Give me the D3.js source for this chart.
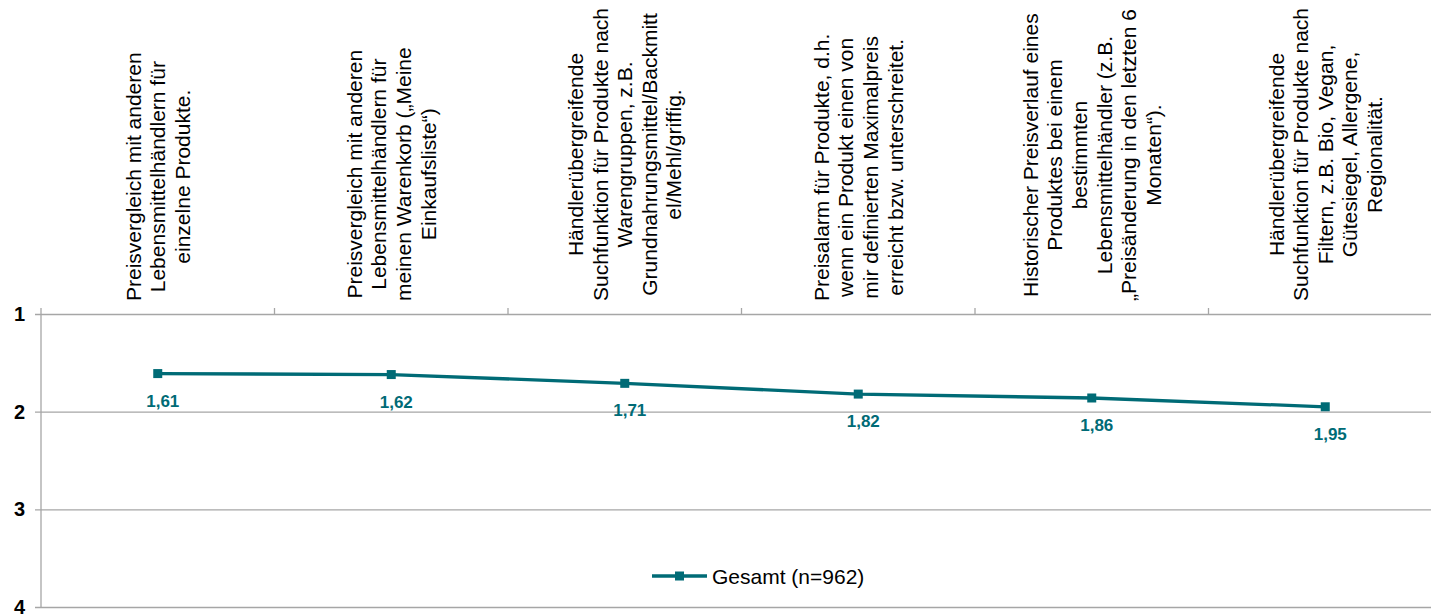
<!DOCTYPE html>
<html>
<head>
<meta charset="utf-8">
<script src="https://cdn.jsdelivr.net/npm/d3@7"></script>
<style>
  html, body { margin: 0; padding: 0; background: #fff; overflow: hidden; }
  svg { display: block; font-family: "Liberation Sans", Arial, sans-serif; }
</style>
</head>
<body>
<svg id="chart" width="1431" height="614"></svg>
<script>
// Feature labels (line breaks as shown on the category axis)
const categories = [
  ["Preisvergleich mit anderen", "Lebensmittelhändlern für", "einzelne Produkte."],
  ["Preisvergleich mit anderen", "Lebensmittelhändlern für", "meinen Warenkorb („Meine", "Einkaufsliste“)"],
  ["Händlerübergreifende", "Suchfunktion für Produkte nach", "Warengruppen, z.B.", "Grundnahrungsmittel/Backmitt", "el/Mehl/griffig."],
  ["Preisalarm für Produkte, d.h.", "wenn ein Produkt einen von", "mir definierten Maximalpreis", "erreicht bzw. unterschreitet."],
  ["Historischer Preisverlauf eines", "Produktes bei einem", "bestimmten", "Lebensmittelhändler (z.B.", "„Preisänderung in den letzten 6", "Monaten“)."],
  ["Händlerübergreifende", "Suchfunktion für Produkte nach", "Filtern, z.B. Bio, Vegan,", "Gütesiegel, Allergene,", "Regionalität."]
];
const seriesName = "Gesamt (n=962)";
const values = [1.61, 1.62, 1.71, 1.82, 1.86, 1.95];
const yTicks = [1, 2, 3, 4];

const teal = "#006b76";
const grid = "#a6a6a6";

const svg = d3.select("#chart");
const plot = { left: 41, right: 1442, top: 314, bottom: 607 };

const x = d3.scaleBand()
  .domain(d3.range(categories.length))
  .range([plot.left, plot.right])
  .paddingInner(0).paddingOuter(0);

const y = d3.scaleLinear()
  .domain([1, 4])
  .range([plot.top, plot.bottom]);

const fmt = v => d3.format(".2f")(v).replace(".", ",");

// Horizontal gridlines with short ticks on the left
const yAxis = d3.axisLeft(y)
  .tickValues(yTicks)
  .tickSize(-(plot.right - plot.left))
  .tickPadding(16)
  .tickFormat(d3.format("d"));

const gy = svg.append("g")
  .attr("transform", `translate(${plot.left},0)`)
  .call(yAxis);
gy.select(".domain").remove();
gy.selectAll(".tick line")
  .attr("x1", -6)
  .attr("stroke", grid)
  .attr("stroke-width", 1.3);
gy.selectAll(".tick text")
  .attr("font-size", 20)
  .attr("font-weight", "bold")
  .attr("fill", "#000")
  .attr("font-family", "Liberation Sans, Arial, sans-serif");

// Vertical value-axis line
svg.append("line")
  .attr("x1", plot.left).attr("x2", plot.left)
  .attr("y1", plot.top - 6).attr("y2", plot.bottom)
  .attr("stroke", grid).attr("stroke-width", 1.3);

// Category boundary ticks on the top axis
const boundaries = d3.range(categories.length + 1).map(i => i < categories.length ? x(i) : x(i - 1) + x.bandwidth());
svg.append("g").selectAll("line")
  .data(boundaries.slice(1))
  .join("line")
  .attr("x1", d => d).attr("x2", d => d)
  .attr("y1", plot.top - 6).attr("y2", plot.top)
  .attr("stroke", grid).attr("stroke-width", 1.3);

// Rotated category labels, bottom-aligned above the axis
const labelFont = 21;
const lineH = 24.6;
const labels = svg.append("g").selectAll("g")
  .data(categories)
  .join("g")
  .attr("transform", (d, i) => `translate(${x(i) + x.bandwidth() / 2},${plot.top - 13}) rotate(-90)`);

labels.each(function (lines) {
  const g = d3.select(this);
  const t = g.selectAll("text")
    .data(lines)
    .join("text")
    .attr("font-size", labelFont)
    .attr("fill", "#000")
    .attr("text-anchor", "middle")
    .attr("dominant-baseline", "central")
    .attr("y", (d, j) => (j - (lines.length - 1) / 2) * lineH)
    .text(d => d);
  let maxW = 0;
  t.each(function () { maxW = Math.max(maxW, this.getComputedTextLength()); });
  t.attr("x", maxW / 2);
});

// Series line
const cx = i => x(i) + x.bandwidth() / 2;
const line = d3.line()
  .x((d, i) => cx(i))
  .y(d => y(d));

svg.append("path")
  .datum(values)
  .attr("d", line)
  .attr("fill", "none")
  .attr("stroke", teal)
  .attr("stroke-width", 3.3)
  .attr("stroke-linejoin", "round");

// Square markers
const ms = 9;
svg.append("g").selectAll("rect")
  .data(values)
  .join("rect")
  .attr("x", (d, i) => cx(i) - ms / 2)
  .attr("y", d => y(d) - ms / 2)
  .attr("width", ms).attr("height", ms)
  .attr("fill", teal);

// Value labels beneath each point
svg.append("g").selectAll("text")
  .data(values)
  .join("text")
  .attr("x", (d, i) => cx(i) + 5)
  .attr("y", d => y(d) + 33)
  .attr("text-anchor", "middle")
  .attr("font-size", 17)
  .attr("font-weight", "bold")
  .attr("fill", teal)
  .text(d => fmt(d));

// Legend
const lg = svg.append("g").attr("transform", "translate(652,576)");
lg.append("line")
  .attr("x1", 0).attr("x2", 55)
  .attr("y1", 0).attr("y2", 0)
  .attr("stroke", teal).attr("stroke-width", 3.3);
lg.append("rect")
  .attr("x", 27.5 - ms / 2).attr("y", -ms / 2)
  .attr("width", ms).attr("height", ms)
  .attr("fill", teal);
lg.append("text")
  .attr("x", 60)
  .attr("y", 0)
  .attr("dominant-baseline", "central")
  .attr("font-size", 21)
  .attr("fill", "#000")
  .text(seriesName);
</script>
</body>
</html>
